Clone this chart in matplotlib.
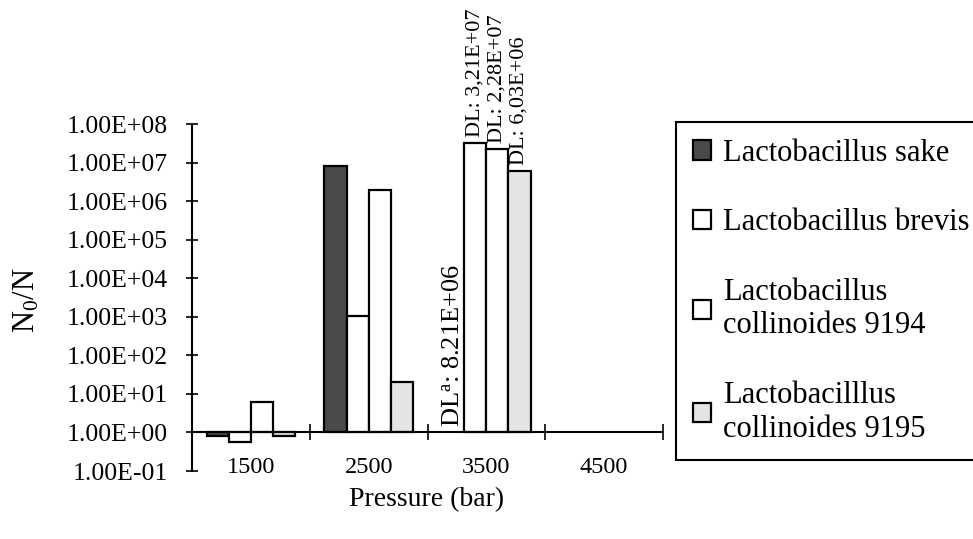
import matplotlib as mpl
mpl.use('Agg')
import matplotlib.pyplot as plt
import matplotlib.ticker as tick
import numpy as np

# data (N0/N per pressure, log scale, bars start at 1)
pressures = ['1500', '2500', '3500', '4500']
series = ['Lactobacillus sake', 'Lactobacillus brevis',
          'Lactobacillus\ncollinoides 9194', 'Lactobacilllus\ncollinoides 9195']
sake = [0.79, 8.21e6, np.nan, np.nan]
brevis = [0.58, 1.07e3, 3.21e7, np.nan]
coll9194 = [6.3, 2.0e6, 2.28e7, np.nan]
coll9195 = [0.79, 20.0, 6.03e6, np.nan]

# detection-limit labels: (pressure index, series index, text)
dl_labels = [(2, 0, 'DL$^a$: 8.21E+06'),
             (2, 1, 'DL: 3,21E+07'),
             (2, 2, 'DL: 2,28E+07'),
             (2, 3, 'DL: 6,03E+06')]

plt.rcParams['font.family'] = ['Liberation Serif', 'DejaVu Serif']
plt.rcParams['mathtext.fontset'] = 'custom'
plt.rcParams['mathtext.rm'] = 'Liberation Serif'
plt.rcParams['mathtext.it'] = 'Liberation Serif'
plt.rcParams['mathtext.default'] = 'rm'

fig = plt.figure(figsize=(9.73, 5.39), dpi=100)
ax = fig.add_axes([192/973, 68/539, 471/973, 347/539])

faces = ['#4a4a4a', 'white', 'white', '#e4e4e4']
values = [sake, brevis, coll9194, coll9195]
w = 0.1875
x = np.arange(len(pressures))
bars = []
for i, v in enumerate(values):
    v = np.array(v)
    b = ax.bar(x + (i - 1.5)*w, v - 1, bottom=1, width=w, color=faces[i],
               edgecolor='black', linewidth=1.6, label=series[i])
    bars.append(b)

for gi, si, txt in dl_labels:
    top = values[si][gi]
    if np.isnan(top):
        top = 1
    fs = 19 if si == 0 else 16
    ax.annotate(txt, (x[gi] + (si - 1.5)*w, top), xytext=(0, 4),
                textcoords='offset points', rotation=90, ha='center', va='bottom',
                fontsize=fs, annotation_clip=False)

ax.set_yscale('log')
ax.set_ylim(0.1, 1e8)
ax.set_xlim(-0.5, 3.5)
ax.yaxis.set_major_locator(tick.FixedLocator([10.0**k for k in range(-1, 9)]))
ax.yaxis.set_minor_locator(tick.NullLocator())
ax.yaxis.set_major_formatter(tick.FuncFormatter(lambda v, p: f'{v:.2E}'))
ax.tick_params(axis='y', which='major', direction='inout', length=9, width=1.2,
               pad=13, labelsize=18.5)

# x axis sits at N0/N = 1
ax.spines['bottom'].set_position(('data', 1))
ax.spines['top'].set_visible(False)
ax.spines['right'].set_visible(False)
ax.spines['left'].set_linewidth(1.5)
ax.spines['bottom'].set_linewidth(1.5)
ax.set_xticks(x)
ax.set_xticklabels(pressures)
ax.set_xticks(np.arange(-0.5, 4.0, 1.0), minor=True)
ax.tick_params(axis='x', which='major', length=0, pad=17.5, labelsize=17.5)
ax.tick_params(axis='x', which='minor', direction='inout', length=11, width=1.2)

fig.text(427/973, 1 - 500/539, 'Pressure (bar)', ha='center', va='center', fontsize=20)
fig.text(27/973, 1 - 300/539, r'N$_0$/N', rotation=90, ha='center', va='center', fontsize=22)

leg = fig.legend(handles=bars, labels=series, loc='upper left',
                 bbox_to_anchor=(676/973, 1 - 122/539), borderaxespad=0,
                 fontsize=22, frameon=True, fancybox=False, edgecolor='black',
                 borderpad=0.55, handlelength=0.6, handleheight=0.6,
                 handletextpad=0.4, labelspacing=1.33)
leg.get_frame().set_linewidth(1.5)
leg.get_frame().set_alpha(1)

plt.savefig('out.png', dpi=100)
